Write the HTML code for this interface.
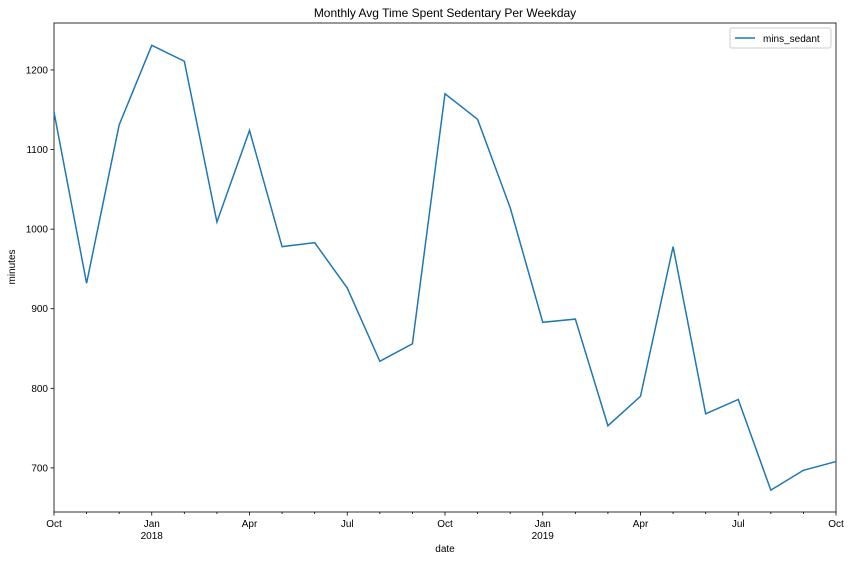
<!DOCTYPE html>
<html><head><meta charset="utf-8"><style>
body{margin:0;background:#fff;font-family:"Liberation Sans","DejaVu Sans",sans-serif;}
svg text{font-family:"Liberation Sans","DejaVu Sans",sans-serif;font-size:10px;fill:#000;}
</style></head><body>
<svg id="chart" width="850" height="562" xmlns="http://www.w3.org/2000/svg">
<text x="445" y="17" text-anchor="middle" style="font-size:12px">Monthly Avg Time Spent Sedentary Per Weekday</text>
<rect x="54" y="23" width="782" height="489" fill="none" stroke="#000" stroke-width="0.8"/>
<text transform="translate(15,267) rotate(-90)" text-anchor="middle">minutes</text>
<text x="445" y="552" text-anchor="middle">date</text>
<g>
<rect x="730" y="28" width="101" height="20" fill="#fff" stroke="#ccc" rx="2"/>
<line x1="735" y1="38" x2="755" y2="38" stroke="#1f77b4" stroke-width="1.5"/>
<text x="763" y="42">mins_sedant</text>
</g>
</svg>
<script>
const months=["2017-10","2017-11","2017-12","2018-01","2018-02","2018-03","2018-04","2018-05","2018-06","2018-07","2018-08","2018-09","2018-10","2018-11","2018-12","2019-01","2019-02","2019-03","2019-04","2019-05","2019-06","2019-07","2019-08","2019-09","2019-10"];
const minsSedant=[1147,932,1131,1231,1211,1009,1124,978,983,926,834,856,1170,1138,1027,883,887,753,790,978,768,786,672,697,708];
const yTicks=[700,800,900,1000,1100,1200];
const xTickIdx=[0,3,6,9,12,15,18,21,24];
const xTickLabels=["Oct","Jan\n2018","Apr","Jul","Oct","Jan\n2019","Apr","Jul","Oct"];
const L=54,R=836,T=23,B=512,ymin=644.6,ymax=1259;
const xs=i=>L+(R-L)*i/(months.length-1);
const ys=v=>B-(v-ymin)/(ymax-ymin)*(B-T);
const svg=document.getElementById('chart');
const NS="http://www.w3.org/2000/svg";
function mk(t,a){const e=document.createElementNS(NS,t);for(const k in a)e.setAttribute(k,a[k]);svg.appendChild(e);return e;}
yTicks.forEach(v=>{
 const y=ys(v);
 const t=mk('line',{x1:L-3.5,x2:L,y1:y,y2:y,stroke:'#000','stroke-width':0.8});
 
 
 const l=mk('text',{x:L-6,y:y+3.5,'text-anchor':'end'});l.textContent=v;
 
 
});
months.forEach((m,i)=>{
 const major=xTickIdx.includes(i);
 const t=mk('line',{x1:xs(i),x2:xs(i),y1:B,y2:B+(major?3.5:2),stroke:'#000','stroke-width':0.8});
 
 
});
xTickIdx.forEach((i,k)=>{
 const parts=xTickLabels[k].split("\n");
 parts.forEach((p,j)=>{
  const l=mk('text',{x:xs(i),y:B+15+j*12,'text-anchor':'middle'});l.textContent=p;
  
  
 });
});
const line=mk('polyline',{points:minsSedant.map((v,i)=>xs(i)+','+ys(v)).join(' '),fill:'none',stroke:'#1f77b4','stroke-width':1.5});


</script>
</body></html>
